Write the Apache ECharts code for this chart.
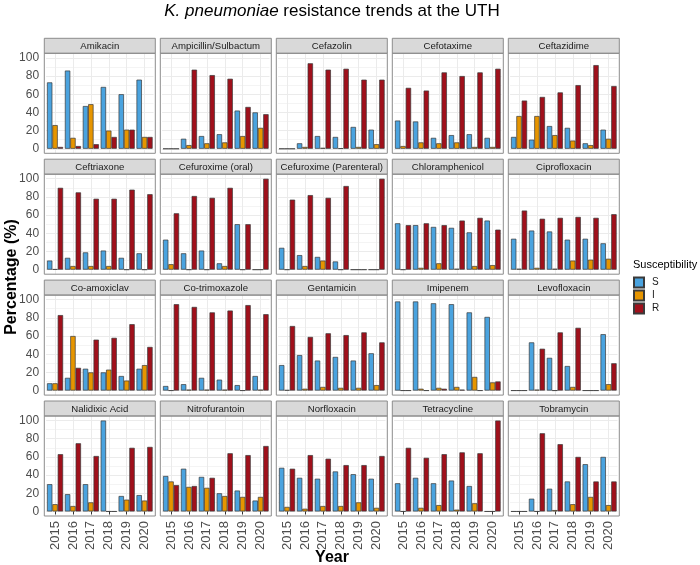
<!DOCTYPE html>
<html>
<head>
<meta charset="utf-8">
<script src="https://cdn.jsdelivr.net/npm/echarts@6/dist/echarts.min.js"></script>
<style>html,body{margin:0;padding:0;background:#fff}#c{width:700px;height:565px}</style>
</head>
<body>
<div id="c"></div>
<script>
// ---------------- data ----------------
const years = ['2015', '2016', '2017', '2018', '2019', '2020'];
const drugs = ['Amikacin', 'Ampicillin/Sulbactum', 'Cefazolin', 'Cefotaxime', 'Ceftazidime',
  'Ceftriaxone', 'Cefuroxime (oral)', 'Cefuroxime (Parenteral)', 'Chloramphenicol', 'Ciprofloxacin',
  'Co-amoxiclav', 'Co-trimoxazole', 'Gentamicin', 'Imipenem', 'Levofloxacin',
  'Nalidixic Acid', 'Nitrofurantoin', 'Norfloxacin', 'Tetracycline', 'Tobramycin'];
const seriesNames = ['S', 'I', 'R'];
const yTickLabels = [0, 20, 40, 60, 80, 100];

// Susceptible (%)
const S = [
  [73, 86, 47, 68, 60, 76],   // Amikacin
  [0, 11, 14, 16, 42, 40],    // Ampicillin/Sulbactum
  [0, 6, 14, 13, 24, 21],     // Cefazolin
  [31, 30, 12, 15, 16, 12],   // Cefotaxime
  [13, 10, 25, 23, 6, 21],    // Ceftazidime
  [10, 13, 19, 21, 13, 18],   // Ceftriaxone
  [33, 18, 21, 7, 50, 0],     // Cefuroxime (oral)
  [24, 16, 14, 9, 0, 0],      // Cefuroxime (Parenteral)
  [51, 49, 47, 46, 41, 54],   // Chloramphenicol
  [34, 43, 42, 33, 34, 29],   // Ciprofloxacin
  [8, 14, 24, 20, 16, 24],    // Co-amoxiclav
  [5, 7, 14, 12, 6, 16],      // Co-trimoxazole
  [28, 39, 33, 37, 33, 41],   // Gentamicin
  [98, 98, 96, 95, 86, 81],   // Imipenem
  [0, 53, 36, 27, 0, 62],     // Levofloxacin
  [30, 19, 30, 100, 17, 18],  // Nalidixic Acid
  [39, 47, 38, 20, 23, 12],   // Nitrofurantoin
  [48, 37, 36, 44, 41, 36],   // Norfloxacin
  [31, 37, 31, 34, 28, 0],    // Tetracycline
  [0, 14, 25, 33, 52, 60]     // Tobramycin
];
// Intermediate (%)
const I = [
  [26, 12, 49, 20, 21, 13],
  [0, 4, 6, 7, 14, 23],
  [0, 2, 1, 0.5, 2, 5],
  [3, 7, 6, 7, 2, 2],
  [36, 36, 15, 9, 4, 11],
  [0.5, 4, 4, 4, 0, 0],
  [6, 0, 0, 4, 0, 0],
  [0, 4, 10, 0, 0, 0],
  [0, 2, 7, 1, 4, 5],
  [1, 2, 1, 10, 11, 12],
  [8, 60, 20, 23, 11, 28],
  [0, 1, 1, 1, 0, 1],
  [0.5, 2, 4, 3, 3, 6],
  [0, 2, 3, 4, 15, 9],
  [0, 1, 0, 4, 0, 7],
  [8, 6, 10, 0, 13, 12],
  [33, 27, 26, 17, 16, 16],
  [5, 3, 6, 6, 10, 4],
  [0, 4, 7, 2, 9, 0],
  [0, 0, 1.5, 8, 16, 7]
];
// Resistant (%)
const R = [
  [2, 3, 5, 13, 21, 13],
  [0, 87, 81, 77, 46, 38],
  [0, 94, 87, 88, 76, 76],
  [67, 64, 84, 80, 84, 88],
  [53, 57, 62, 70, 92, 69],
  [90, 85, 78, 78, 88, 83],
  [62, 81, 79, 90, 50, 100],
  [77, 82, 79, 92, 0, 100],
  [49, 51, 49, 54, 57, 44],
  [65, 56, 57, 58, 57, 61],
  [83, 25, 56, 58, 73, 48],
  [95, 92, 86, 88, 94, 84],
  [71, 59, 63, 61, 64, 53],
  [0, 0, 2, 1, 0, 10],
  [0, 46, 64, 69, 0, 30],
  [63, 75, 61, 0, 70, 71],
  [29, 28, 37, 64, 62, 72],
  [47, 62, 58, 51, 51, 61],
  [70, 59, 63, 65, 64, 100],
  [0, 86, 74, 60, 33, 33]
];
const values = [S, I, R];

// ---------------- style / layout ----------------
const colors = ['#4AA3DF', '#E69500', '#A0101B'];
const FONT = 'Liberation Sans, Arial, Helvetica, sans-serif';
const colLeft0 = 44.3, colStep = 116, panelW = 111;
const stripTop0 = 38.3, rowStep = 120.9, stripH = 15, panelH = 100;
const inset = panelW * 0.1 / 6.2;

const grids = [], xAxes = [], yAxes = [], series = [], graphics = [];

drugs.forEach((drug, k) => {
  const r = Math.floor(k / 5), c = k % 5;
  const px = colLeft0 + c * colStep;
  const sy = stripTop0 + r * rowStep;
  const py = sy + stripH;
  grids.push({
    left: px + inset, top: py, width: panelW - 2 * inset, height: panelH,
    show: false, containLabel: false, outerBoundsMode: 'none'
  });
  xAxes.push({
    type: 'category', gridIndex: k, data: years, boundaryGap: true,
    axisLine: { show: false },
    axisTick: { show: r === 3, alignWithLabel: true, length: 3, lineStyle: { color: '#333', width: 1 } },
    axisLabel: { show: r === 3, rotate: 90, fontSize: 13, color: '#4D4D4D', margin: 5, fontFamily: FONT, interval: 0 },
    splitLine: { show: true, alignWithLabel: true, lineStyle: { color: '#EBEBEB', width: 1 } }
  });
  yAxes.push({
    type: 'value', gridIndex: k, min: -5, max: 105, interval: 5,
    axisLine: { show: false }, axisTick: { show: false },
    axisLabel: {
      show: c === 0, fontSize: 12, color: '#4D4D4D', margin: 7, fontFamily: FONT,
      formatter: v => (yTickLabels.indexOf(v) >= 0 ? String(v) : '')
    },
    splitLine: { show: true, lineStyle: { color: ['rgba(0,0,0,0)', '#EBEBEB', 'rgba(0,0,0,0)', '#F4F4F4'], width: 1 } }
  });
  seriesNames.forEach((nm, j) => {
    series.push({
      type: 'bar', name: nm, xAxisIndex: k, yAxisIndex: k,
      data: values[j][k],
      barGap: '0%', barCategoryGap: '10%',
      itemStyle: { color: colors[j], borderColor: '#3A3A3A', borderWidth: 0.7 },
      emphasis: { disabled: true }, silent: true
    });
  });
  // strip
  graphics.push({
    type: 'rect', z: 100,
    shape: { x: px, y: sy, width: panelW, height: stripH },
    style: { fill: '#D9D9D9', stroke: '#8C8C8C', lineWidth: 1 }
  });
  graphics.push({
    type: 'text', z: 101, x: px + panelW / 2, y: sy + stripH / 2 + 0.5,
    style: { text: drug, textAlign: 'center', textVerticalAlign: 'middle', fontSize: 9.6, fontFamily: FONT, fill: '#1A1A1A' }
  });
  // panel border
  graphics.push({
    type: 'rect', z: 100,
    shape: { x: px, y: py, width: panelW, height: panelH },
    style: { fill: 'none', stroke: '#8C8C8C', lineWidth: 1 }
  });
});

// titles
graphics.push({
  type: 'text', z: 101, x: 332, y: 11,
  style: {
    text: '{i|K. pneumoniae} resistance trends at the UTH',
    textAlign: 'center', textVerticalAlign: 'middle', fontSize: 17, fontFamily: FONT, fill: '#000',
    rich: { i: { fontStyle: 'italic', fontSize: 17, fontFamily: FONT, fill: '#000' } }
  }
});
graphics.push({
  type: 'text', z: 101, x: 12, y: 277, rotation: Math.PI / 2,
  style: { text: 'Percentage (%)', textAlign: 'center', textVerticalAlign: 'middle', fontSize: 16, fontWeight: 'bold', fontFamily: FONT, fill: '#000' }
});
graphics.push({
  type: 'text', z: 101, x: 332, y: 558,
  style: { text: 'Year', textAlign: 'center', textVerticalAlign: 'middle', fontSize: 16, fontWeight: 'bold', fontFamily: FONT, fill: '#000' }
});
graphics.push({
  type: 'text', z: 101, x: 633, y: 265,
  style: { text: 'Susceptibility', textAlign: 'left', textVerticalAlign: 'middle', fontSize: 11, fontFamily: FONT, fill: '#000' }
});

const chart = echarts.init(document.getElementById('c'), null, { renderer: 'canvas' });
chart.setOption({
  animation: false,
  backgroundColor: '#fff',
  grid: grids, xAxis: xAxes, yAxis: yAxes, series: series,
  legend: {
    data: seriesNames, orient: 'vertical', left: 633, top: 276.5,
    itemWidth: 10, itemHeight: 10, itemGap: 1, icon: 'rect', padding: 0,
    selectedMode: false,
    textStyle: { fontSize: 10, color: '#1A1A1A', fontFamily: FONT, padding: [0, 0, 0, 3] }
  },
  graphic: graphics
});
</script>
</body>
</html>
